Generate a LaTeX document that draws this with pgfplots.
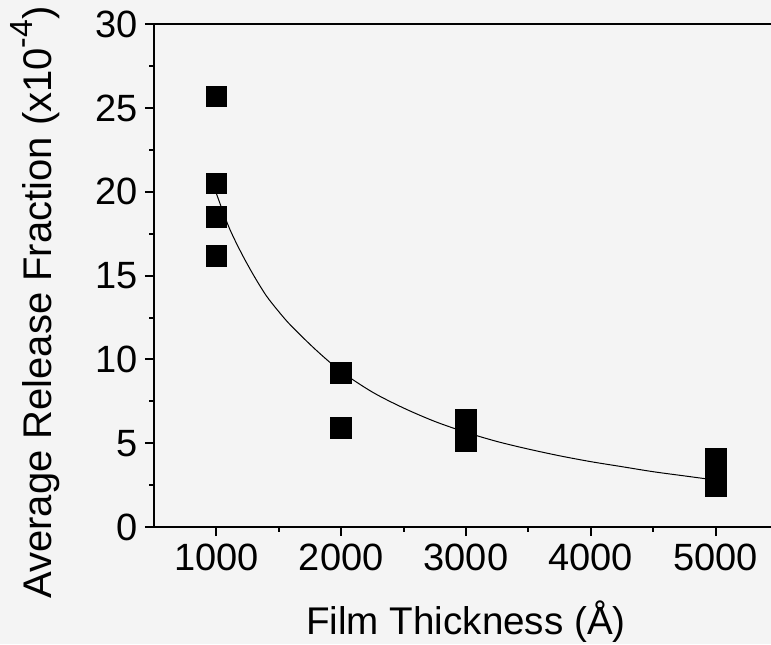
\documentclass[border=0pt]{standalone}
\usepackage{fontspec}
\setmainfont{Liberation Sans}
\usepackage{pgfplots}
\pgfplotsset{compat=1.18}
\definecolor{bg}{RGB}{244,244,244}
\begin{document}
\begin{tikzpicture}
\fill[bg] (-77pt,-58.5pt) rectangle (308.5pt,263.5pt);
\begin{axis}[
  at={(0,0)}, anchor=south west,
  scale only axis, width=312pt, height=251.35pt,
  xmin=500, xmax=5500, ymin=0, ymax=30,
  xtick={1000,2000,3000,4000,5000}, ytick={0,5,10,15,20,25,30},
  minor x tick num=1, minor y tick num=1,
  tick align=outside, xtick pos=left, ytick pos=left,
  major tick length=4.5pt, minor tick length=2.25pt,
  axis line style={line width=1pt},
  every tick/.style={black, line width=1pt},
  /pgf/number format/assume math mode=true,
  /pgf/number format/1000 sep={},
  tick label style={font=\fontsize{19}{22}\selectfont},
  xticklabel style={anchor=base, inner sep=0pt, yshift=-17pt},
  yticklabel style={anchor=east, inner sep=0pt, xshift=-3.5pt},
  xlabel={Film Thickness (Å)},
  ylabel={Average Release Fraction (x10\raisebox{9.5pt}{\fontsize{16}{16}\selectfont -4})},
  xlabel style={font=\fontsize{19.3}{22}\selectfont, at={(axis description cs:0.5,-0.2148)}, anchor=base, inner sep=0pt},
  ylabel style={font=\fontsize{20}{22}\selectfont, at={(axis description cs:-0.1635,0.4466)}, anchor=base, inner sep=0pt},
  clip=false,
]
\addplot[black, line width=0.5pt, smooth, no marks] coordinates {
(1000,19.9) (1100,17.9) (1200,16.35) (1300,15.0) (1400,13.8) (1500,12.85)
(1600,12.0) (1800,10.55) (2000,9.28) (2250,8.05) (2500,7.1) (2750,6.3)
(3000,5.65) (3250,5.1) (3500,4.65) (3750,4.25) (4000,3.9) (4250,3.6)
(4500,3.3) (4750,3.05) (5000,2.8)
};
\addplot[only marks, mark=square*, mark size=5.2pt,
  mark options={fill=black, draw=black, line width=0.4pt}] coordinates {
(1000,25.7) (1000,20.5) (1000,18.5) (1000,16.2)
(2000,9.22) (2000,5.92)
(3000,6.4) (3000,5.8) (3000,5.15)
(5000,4.1) (5000,3.3) (5000,2.45)
};
\end{axis}
\pgfresetboundingbox
\path[use as bounding box] (-77pt,-58.5pt) rectangle (308.5pt,263.5pt);
\end{tikzpicture}
\end{document}
